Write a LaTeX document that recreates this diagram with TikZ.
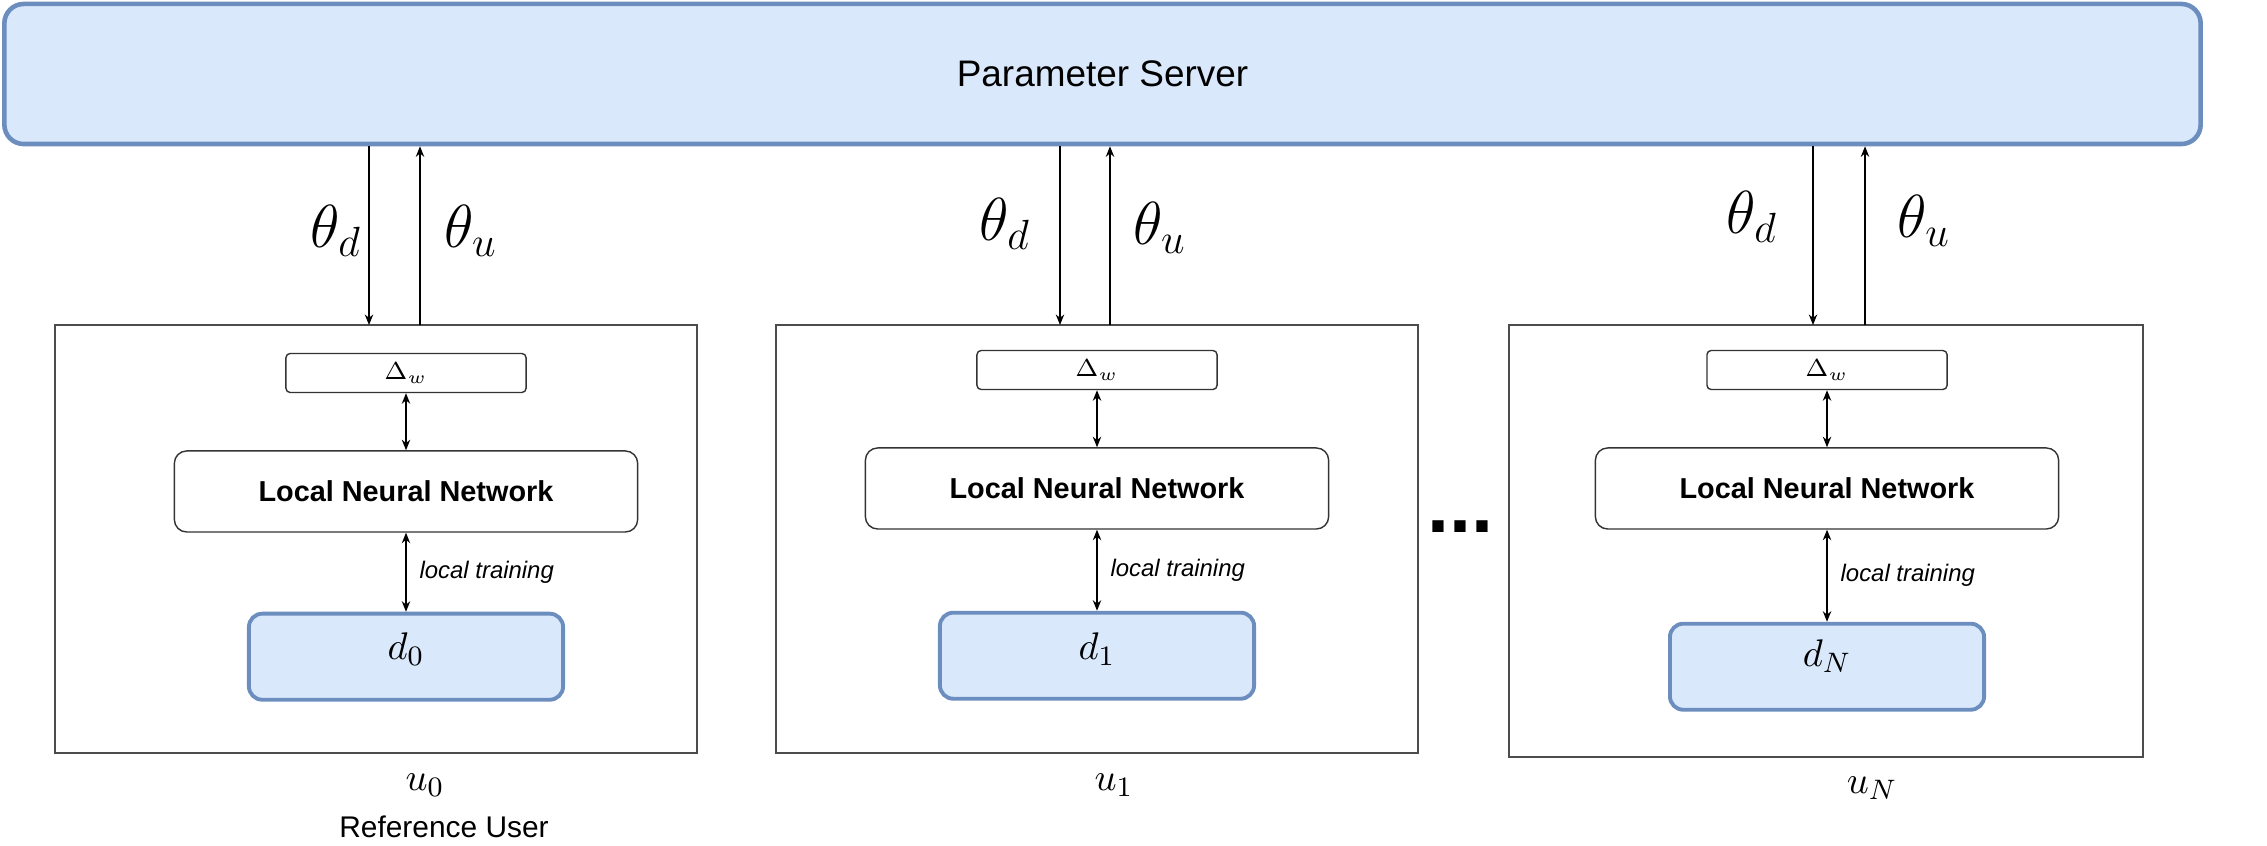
\documentclass[tikz,border=0pt]{standalone}
\usepackage{fontspec}
\setmainfont{Liberation Sans}
\usetikzlibrary{positioning,arrows.meta}

\definecolor{psfill}{HTML}{DAE8FC}
\definecolor{psdraw}{HTML}{6C8EBF}

\tikzset{
	server/.style={draw=psdraw, fill=psfill, line width=1.3pt, rounded corners=5.5pt,
		minimum width=21.95cm, minimum height=1.40cm, font=\fontsize{10.5}{12}\selectfont},
	userbox/.style={draw=black!70, line width=0.45pt, minimum width=6.42cm, minimum height=4.28cm},
	deltabox/.style={draw=black!80, line width=0.4pt, rounded corners=1.2pt,
		minimum width=2.40cm, minimum height=0.39cm, inner sep=0pt, font=\fontsize{7.5}{8}\selectfont},
	nnbox/.style={draw=black!80, line width=0.4pt, rounded corners=3.5pt,
		minimum width=4.63cm, minimum height=0.81cm, font=\bfseries\fontsize{8.2}{10}\selectfont},
	databox/.style={draw=psdraw, fill=psfill, line width=1.1pt, rounded corners=3.8pt,
		minimum width=3.14cm, minimum height=0.86cm, font=\fontsize{11}{12}\selectfont},
	theta/.style={font=\fontsize{16.5}{18}\selectfont},
	ulab/.style={font=\fontsize{11}{12}\selectfont},
	reflab/.style={font=\fontsize{8.5}{10}\selectfont},
	note/.style={font=\itshape\fontsize{6.8}{8}\selectfont, inner sep=0pt, xshift=0.13cm},
	dots/.style={font=\bfseries\fontsize{22.5}{24}\selectfont, inner sep=0pt},
	link/.style={-{Stealth[length=3pt,width=2.4pt]}, line width=0.35pt},
	twoway/.style={{Stealth[length=3pt,width=2.4pt]}-{Stealth[length=3pt,width=2.4pt]}, line width=0.35pt},
}

\begin{document}
\begin{tikzpicture}[x=0.01cm, y=-0.01cm]
	% canvas
	\useasboundingbox (0,0) rectangle (2267,846);
	
	% server
	\node[server] (ps) at (1102.5,74) {Parameter Server};
	
	% users
	\node[userbox] (user0) at (376,539) {};
	\node[userbox] (user1) at (1097,539) {};
	\node[userbox, minimum width=6.34cm, minimum height=4.32cm] (user2) at (1826,541) {};
	
	% user 0
	\node[deltabox] (delta0) at (406,373) {$\Delta_w$};
	\node[nnbox, below=0.57cm of delta0] (nn0) {Local Neural Network};
	\node[databox, below=0.79cm of nn0] (data0) {\raisebox{-0.3mm}[0pt][0pt]{$d_0$}};
	\draw[twoway] (delta0) -- (nn0);
	\draw[twoway] (nn0) -- node[note, right] {local training} (data0);
	
	% user 1
	\node[deltabox] (delta1) at (1097,370) {$\Delta_w$};
	\node[nnbox, below=0.57cm of delta1] (nn1) {Local Neural Network};
	\node[databox, below=0.81cm of nn1] (data1) {\raisebox{-0.4mm}[0pt][0pt]{$d_1$}};
	\draw[twoway] (delta1) -- (nn1);
	\draw[twoway] (nn1) -- node[note, right] {local training} (data1);
	
	% user N
	\node[deltabox] (delta2) at (1827,370) {$\Delta_w$};
	\node[nnbox, below=0.57cm of delta2] (nn2) {Local Neural Network};
	\node[databox, below=0.92cm of nn2] (data2) {\raisebox{0mm}[0pt][0pt]{$d_N$}};
	\draw[twoway] (delta2) -- (nn2);
	\draw[twoway] (nn2) -- node[note, right] {local training} (data2);
	
	% server links
	\coordinate (dn0) at (369,325);
	\coordinate (up0) at (420,325);
	\coordinate (dn1) at (1060,325);
	\coordinate (up1) at (1110,325);
	\coordinate (dn2) at (1813,325);
	\coordinate (up2) at (1865,325);
	\draw[link] (ps.south -| dn0) -- (dn0);
	\draw[link] (up0) -- (ps.south -| up0);
	\draw[link] (ps.south -| dn1) -- (dn1);
	\draw[link] (up1) -- (ps.south -| up1);
	\draw[link] (ps.south -| dn2) -- (dn2);
	\draw[link] (up2) -- (ps.south -| up2);
	
	% labels
	\node[theta] (td0) at (336,231) {$\theta_d$};
	\node[theta] (tu0) at (471,231) {$\theta_u$};
	\node[theta] (td1) at (1005,224) {$\theta_d$};
	\node[theta] (tu1) at (1160,228) {$\theta_u$};
	\node[theta] (td2) at (1752,217) {$\theta_d$};
	\node[theta] (tu2) at (1924,221) {$\theta_u$};
	
	\node[ulab] (name0) at (425,785) {$u_0$};
	\node[reflab] (ref0) at (444,827) {Reference User};
	\node[ulab] (name1) at (1114,785) {$u_1$};
	\node[ulab] (name2) at (1872,788) {$u_N$};
	
	\node[dots, anchor=base] (more) at (1460,532) {...};
\end{tikzpicture}
\end{document}
